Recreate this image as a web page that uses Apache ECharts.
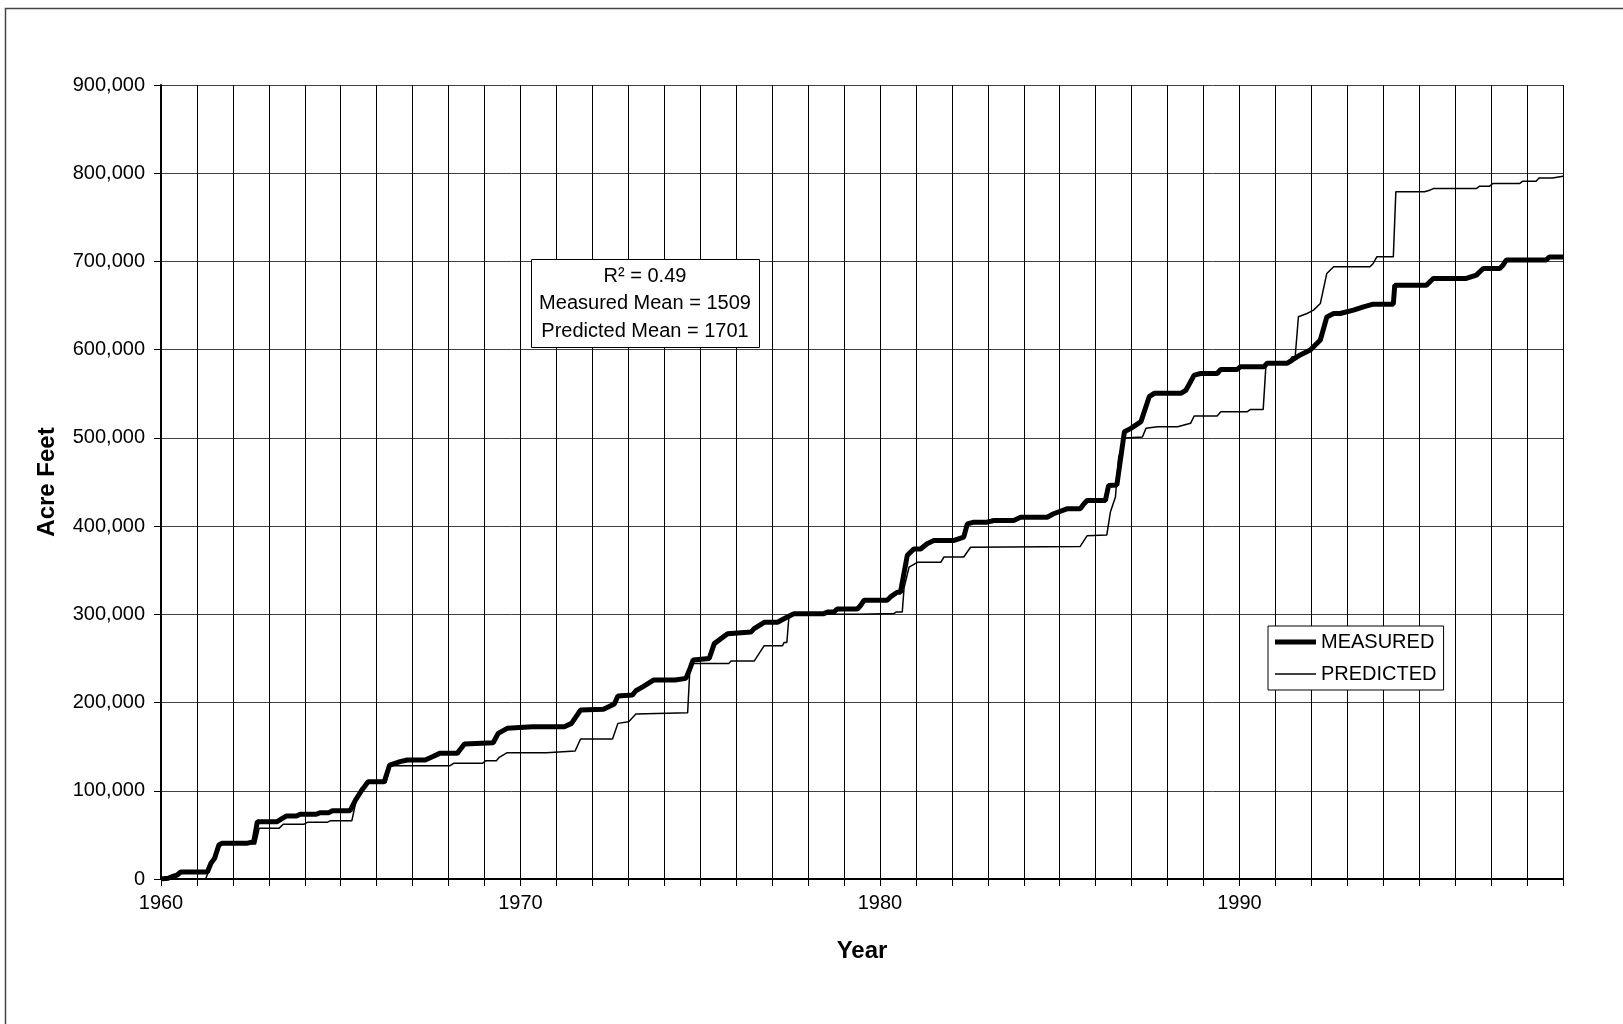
<!DOCTYPE html>
<html>
<head>
<meta charset="utf-8">
<script src="https://cdn.jsdelivr.net/npm/echarts@6/dist/echarts.min.js"></script>
<style>
  html, body { margin: 0; padding: 0; background: #fff; }
  #chart { width: 1623px; height: 1024px; }
</style>
</head>
<body>
<div id="chart"></div>
<script>
const measuredYears = [
  1960.00, 1960.20, 1960.30, 1960.45, 1960.55, 1961.29, 1961.39, 1961.49, 1961.61, 1961.69,
  1962.38, 1962.58, 1962.68, 1963.23, 1963.33, 1963.48, 1963.77, 1963.87, 1964.32, 1964.42,
  1964.67, 1964.77, 1965.26, 1965.41, 1965.56, 1965.61, 1965.76, 1966.21, 1966.36, 1966.65,
  1966.85, 1967.35, 1967.55, 1967.75, 1968.24, 1968.44, 1969.24, 1969.38, 1969.63, 1970.33,
  1971.22, 1971.42, 1971.67, 1972.31, 1972.61, 1972.71, 1973.11, 1973.21, 1973.41, 1973.70,
  1974.30, 1974.60, 1974.70, 1974.80, 1975.25, 1975.39, 1975.76, 1976.41, 1976.50, 1976.78,
  1977.15, 1977.33, 1977.52, 1977.61, 1978.44, 1978.54, 1978.72, 1978.81, 1979.37, 1979.46,
  1979.56, 1980.20, 1980.30, 1980.48, 1980.57, 1980.76, 1980.94, 1981.13, 1981.31, 1981.50,
  1982.06, 1982.33, 1982.43, 1982.61, 1982.98, 1983.17, 1983.72, 1983.91, 1984.65, 1984.83,
  1985.20, 1985.57, 1985.67, 1985.76, 1986.27, 1986.36, 1986.59, 1986.64, 1986.80, 1986.98,
  1987.26, 1987.49, 1987.63, 1988.37, 1988.51, 1988.74, 1988.92, 1989.38, 1989.48, 1989.94,
  1990.03, 1990.68, 1990.77, 1991.32, 1991.46, 1991.69, 1991.97, 1992.25, 1992.43, 1992.62,
  1992.80, 1993.17, 1993.45, 1993.72, 1994.28, 1994.32, 1995.20, 1995.39, 1996.31, 1996.59,
  1996.78, 1997.24, 1997.33, 1997.42, 1998.53, 1998.62, 1999.00
];
const measuredValues = [
  0, 800, 2600, 4500, 7900, 7900, 17800, 23400, 38500, 40400,
  40400, 42300, 65000, 65000, 67600, 71400, 71400, 73300, 73300, 75200,
  75200, 77400, 77400, 89500, 99000, 100900, 110300, 110300, 129200, 133000,
  134900, 134900, 138600, 142400, 142400, 153000, 154500, 165100, 170800, 172600,
  172600, 176400, 191500, 192300, 198300, 207400, 208500, 213400, 218000, 225500,
  225500, 227400, 236900, 248200, 250000, 266800, 278000, 280000, 283800, 291000,
  291000, 295000, 298900, 300800, 300800, 302600, 302600, 306000, 306000, 310000,
  316000, 316000, 320000, 325000, 325000, 366800, 374000, 374000, 380000, 383800,
  383800, 387500, 402600, 404500, 404500, 406400, 406400, 410000, 410000, 414000,
  419600, 419600, 425000, 429000, 429000, 446000, 446600, 448000, 507000, 510800,
  518400, 546700, 550500, 550500, 554000, 571200, 573000, 573000, 577600, 577600,
  580700, 580700, 584500, 584500, 588000, 594000, 599500, 611000, 637000, 641000,
  641000, 644800, 648600, 651600, 651600, 673000, 673000, 680700, 680700, 684500,
  692000, 692000, 695800, 701500, 701500, 705000, 705000
];

const predictedYears = [
  1960.00, 1961.24, 1961.34, 1961.61, 1961.69, 1962.63, 1962.73, 1963.28, 1963.40, 1963.97,
  1964.07, 1964.62, 1964.72, 1965.31, 1965.44, 1965.56, 1965.76, 1966.26, 1966.38, 1968.04,
  1968.14, 1968.94, 1969.04, 1969.33, 1969.41, 1969.63, 1970.72, 1970.77, 1971.52, 1971.67,
  1972.56, 1972.71, 1973.01, 1973.21, 1974.65, 1974.72, 1975.80, 1975.85, 1976.50, 1976.55,
  1976.78, 1977.29, 1977.33, 1977.41, 1977.47, 1977.55, 1979.46, 1979.50, 1980.39, 1980.45,
  1980.62, 1980.67, 1980.81, 1981.04, 1981.69, 1981.78, 1982.33, 1982.52, 1985.57, 1985.76,
  1986.31, 1986.41, 1986.55, 1986.64, 1986.80, 1987.30, 1987.40, 1987.72, 1988.28, 1988.64,
  1988.74, 1989.38, 1989.48, 1990.22, 1990.31, 1990.66, 1990.74, 1991.37, 1991.46, 1991.55,
  1991.64, 1991.88, 1992.06, 1992.25, 1992.43, 1992.62, 1993.63, 1993.72, 1993.82, 1994.28,
  1994.35, 1995.15, 1995.29, 1995.39, 1996.59, 1996.68, 1996.96, 1997.05, 1997.79, 1997.88,
  1998.25, 1998.34, 1998.71, 1999.00
];
const predictedValues = [
  0, 0, 10200, 37800, 39700, 39700, 57400, 57400, 62000, 62000,
  64200, 64200, 66100, 66100, 91400, 102800, 109200, 109200, 128400, 128400,
  131100, 131100, 134100, 134100, 137900, 143200, 143200, 145100, 145100, 158700,
  158700, 176400, 178300, 187000, 188500, 244400, 244400, 247000, 247000, 250000,
  264500, 264500, 268000, 268000, 298900, 300000, 300000, 301000, 301000, 302600,
  302600, 330000, 353600, 359000, 359000, 365000, 365000, 376000, 377000, 389000,
  390000, 416000, 433000, 478000, 500000, 501000, 510800, 512700, 512700, 516500,
  524800, 524800, 529700, 529700, 532300, 532300, 584500, 584500, 592000, 592000,
  637300, 641000, 644800, 652400, 686400, 694000, 694000, 697700, 705200, 705200,
  778900, 778900, 780700, 782600, 782600, 785300, 785300, 788300, 788300, 791000,
  791000, 794700, 794700, 796600
];

const statsLines = ["R\u00B2 = 0.49", "Measured Mean = 1509", "Predicted Mean = 1701"];

const FONT = '"Liberation Sans", Arial, Helvetica, sans-serif';

// legend icons: a 41x14 box with a horizontal bar of the series' line width
const THICK_ICON = "path://M0,0M41,14M0,4.5H41V9.5H0Z";
const THIN_ICON = "path://M0,0M41,14M0,6.3H41V7.7H0Z";

const chart = echarts.init(document.getElementById("chart"));

const pairs = (xs, ys) => xs.map((x, i) => [x, ys[i]]);

chart.setOption({
  backgroundColor: "#fff",
  animation: false,
  textStyle: { fontFamily: FONT },
  grid: { left: 161, right: 60, top: 85, bottom: 145 },
  xAxis: {
    type: "value",
    min: 1960,
    max: 1999,
    interval: 1,
    name: "Year",
    nameLocation: "middle",
    nameGap: 60,
    nameTextStyle: { fontSize: 24, fontWeight: "bold", color: "#000", fontFamily: FONT },
    axisLine: { show: true, onZero: false, lineStyle: { color: "#000", width: 2 } },
    axisTick: { show: true, length: 7, lineStyle: { color: "#000", width: 1 } },
    axisLabel: {
      margin: 14,
      fontSize: 20,
      color: "#000",
      formatter: (v) => (v % 10 === 0 ? String(v) : ""),
    },
    splitLine: { show: true, lineStyle: { color: "#000", width: 1 } },
  },
  yAxis: {
    type: "value",
    min: 0,
    max: 900000,
    interval: 100000,
    name: "Acre Feet",
    nameLocation: "middle",
    nameGap: 102,
    nameTextStyle: { fontSize: 24, fontWeight: "bold", color: "#000", fontFamily: FONT },
    axisLine: { show: true, lineStyle: { color: "#000", width: 2 } },
    axisTick: { show: true, length: 7, lineStyle: { color: "#000", width: 1 } },
    axisLabel: {
      margin: 16,
      fontSize: 20,
      color: "#000",
      formatter: (v) => v.toLocaleString("en-US"),
    },
    splitLine: { show: true, lineStyle: { color: "#404040", width: 1 } },
  },
  legend: {
    left: 1268,
    top: 626,
    orient: "vertical",
    backgroundColor: "#fff",
    borderColor: "#000",
    borderWidth: 1,
    borderRadius: 0,
    padding: [6, 7, 6, 7],
    itemWidth: 41,
    itemHeight: 14,
    itemGap: 12,
    textStyle: { fontSize: 20, color: "#000", fontFamily: FONT },
    data: [
      { name: "MEASURED", icon: THICK_ICON },
      { name: "PREDICTED", icon: THIN_ICON },
    ],
  },
  graphic: [
    {
      type: "rect",
      silent: true,
      z: -10,
      shape: { x: 5.5, y: 8.5, width: 1700, height: 1100 },
      style: { fill: "none", stroke: "#444", lineWidth: 1.5 },
    },
    {
      type: "rect",
      z: 100,
      shape: { x: 531.5, y: 259.5, width: 228, height: 88 },
      style: { fill: "#fff", stroke: "#000", lineWidth: 1 },
    },
    ...statsLines.map((t, i) => ({
      type: "text",
      z: 101,
      style: {
        x: 645,
        y: 276 + i * 27.5,
        text: t,
        fill: "#000",
        font: `20px ${FONT}`,
        align: "center",
        verticalAlign: "middle",
      },
    })),
  ],
  series: [
    {
      name: "PREDICTED",
      type: "line",
      symbol: "none",
      showSymbol: false,
      data: pairs(predictedYears, predictedValues),
      lineStyle: { color: "#000", width: 1.5 },
      itemStyle: { color: "#000" },
      z: 3,
    },
    {
      name: "MEASURED",
      type: "line",
      symbol: "none",
      showSymbol: false,
      data: pairs(measuredYears, measuredValues),
      lineStyle: { color: "#000", width: 5 },
      itemStyle: { color: "#000" },
      z: 4,
    },
  ],
});
</script>
</body>
</html>
